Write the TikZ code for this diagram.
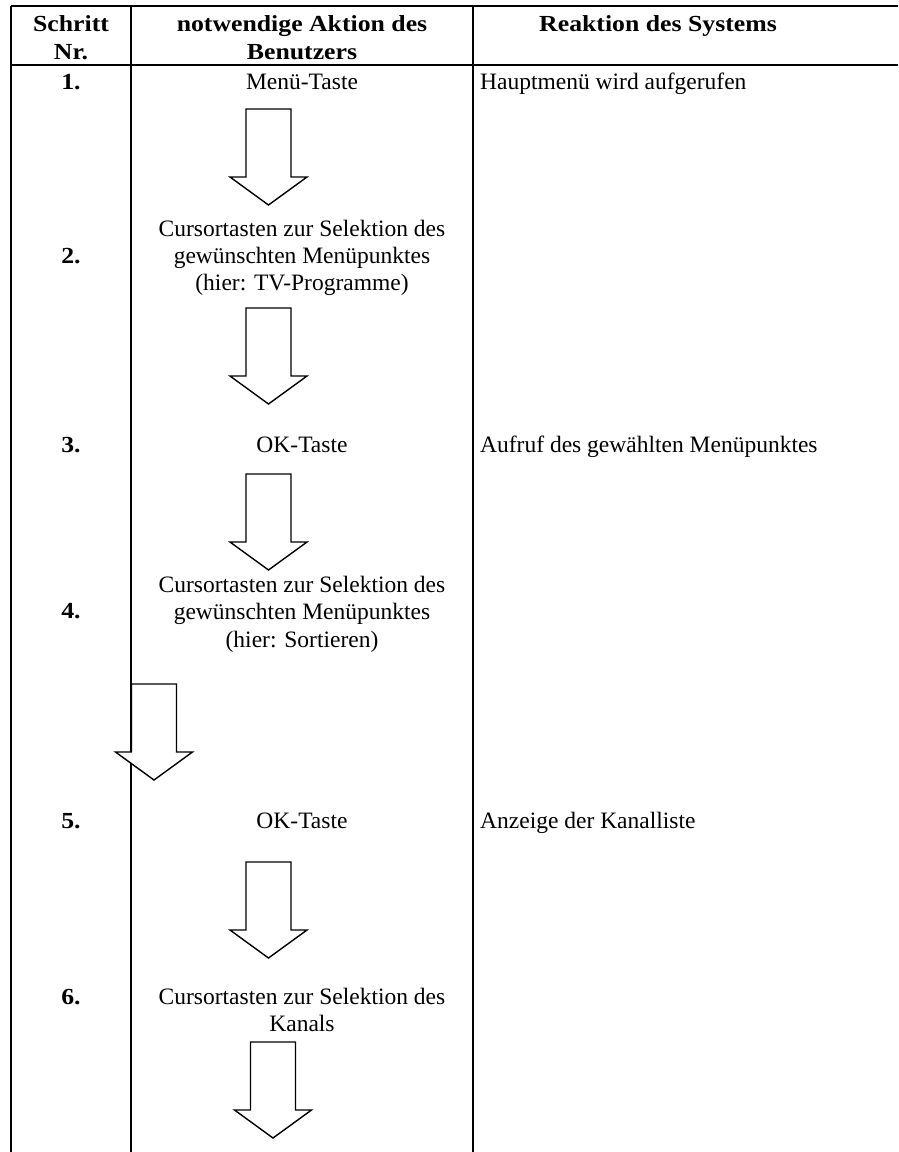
\documentclass[tikz,border=0pt]{standalone}
\usepackage{fontspec}
\setmainfont{Liberation Serif}
\newfontfamily\hdrfont[FakeStretch=1.12]{Liberation Serif}
\begin{document}
\begin{tikzpicture}[x=1pt,y=-1pt,
  rule/.style={line width=2.3pt},
  txt/.style={anchor=base,inner sep=0pt,font=\fontsize{23.5}{27}\selectfont},
  hdr/.style={txt,font=\hdrfont\fontsize{23}{27}\selectfont\bfseries},
  num/.style={hdr},
  lft/.style={txt,anchor=base west},
  blockarrow/.pic={\draw[line width=1.4pt,fill=white,line join=miter]
     (-22.5,0) -- (22.5,0) -- (22.5,68) -- (38.5,68) -- (0,96) -- (-38.5,68) -- (-22.5,68) -- cycle;}
]
\useasboundingbox (0,0) rectangle (898,1152);
% table rules
\coordinate (tl) at (11,6);  \coordinate (tr) at (898,6);
\coordinate (hl) at (11,65); \coordinate (hr) at (898,65);
\coordinate (c0t) at (11,6);   \coordinate (c0b) at (11,1152);
\coordinate (c1t) at (131,6);  \coordinate (c1b) at (131,1152);
\coordinate (c2t) at (473,6);  \coordinate (c2b) at (473,1152);
\draw[rule] (tl) -- (tr);
\draw[rule] (hl) -- (hr);
\draw[rule] (c0t) -- (c0b);
\draw[rule] (c1t) -- (c1b);
\draw[rule] (c2t) -- (c2b);
% header
\node[hdr] (h1a) at (71,31.5) {Schritt};
\node[hdr] (h1b) at (71,59.5) {Nr.};
\node[hdr] (h2a) at (302,31.5) {notwendige Aktion des};
\node[hdr] (h2b) at (302,59.5) {Benutzers};
\node[hdr] (h3) at (658,31.5) {Reaktion des Systems};
% row 1
\node[num] (n1) at (71,89) {1.};
\node[txt] (a1) at (302,89) {Menü-Taste};
\node[lft] (r1) at (480,89) {Hauptmenü wird aufgerufen};
\pic at (268.5,109) {blockarrow};
% row 2
\node[num] (n2) at (71,263) {2.};
\node[txt] (a2a) at (302,236) {Cursortasten zur Selektion des};
\node[txt] (a2b) at (302,263) {gewünschten Menüpunktes};
\node[txt] (a2c) at (302,290) {(hier: TV-Programme)};
\pic at (268.5,308) {blockarrow};
% row 3
\node[num] (n3) at (71,452) {3.};
\node[txt] (a3) at (302,452) {OK-Taste};
\node[lft] (r3) at (480,452) {Aufruf des gewählten Menüpunktes};
\pic at (268.5,474) {blockarrow};
% row 4
\node[num] (n4) at (71,618) {4.};
\node[txt] (a4a) at (302,592) {Cursortasten zur Selektion des};
\node[txt] (a4b) at (302,619) {gewünschten Menüpunktes};
\node[txt] (a4c) at (302,647) {(hier: Sortieren)};
\pic at (154,684) {blockarrow};
% row 5
\node[num] (n5) at (71,828) {5.};
\node[txt] (a5) at (302,828) {OK-Taste};
\node[lft] (r5) at (480,828) {Anzeige der Kanalliste};
\pic at (268.5,862) {blockarrow};
% row 6
\node[num] (n6) at (71,1004) {6.};
\node[txt] (a6a) at (302,1004) {Cursortasten zur Selektion des};
\node[txt] (a6b) at (302,1031) {Kanals};
\pic at (273,1042) {blockarrow};
\end{tikzpicture}
\end{document}
